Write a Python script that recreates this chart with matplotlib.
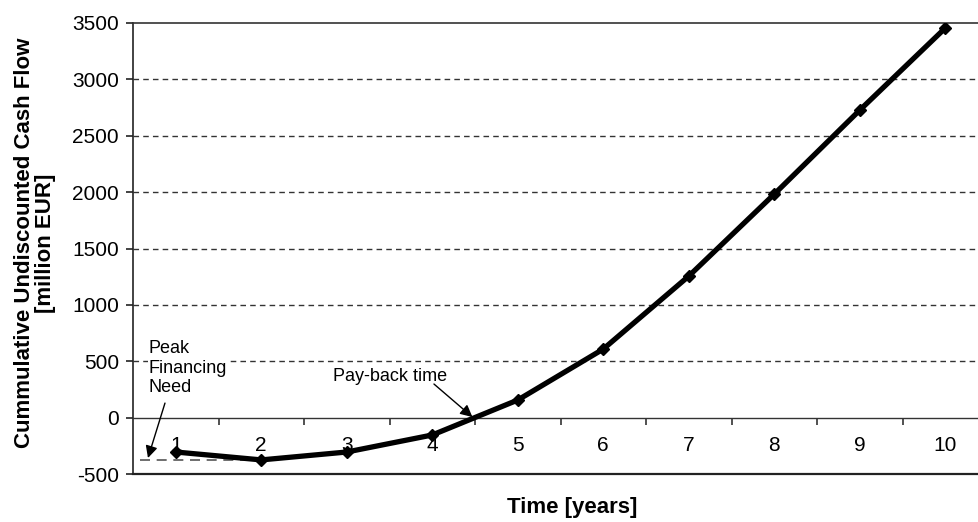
import matplotlib
matplotlib.use("Agg")
import matplotlib.pyplot as plt
from matplotlib.ticker import FixedLocator, NullFormatter

plt.rcParams['font.family'] = ['Liberation Sans', 'DejaVu Sans']

years = [1, 2, 3, 4, 5, 6, 7, 8, 9, 10]
cash_flow = [-305, -375, -305, -154, 156, 608, 1255, 1982, 2727, 3455]
y_ticks = [-500, 0, 500, 1000, 1500, 2000, 2500, 3000, 3500]
y_label = "Cummulative Undiscounted Cash Flow\n[million EUR]"
x_label = "Time [years]"

fig = plt.figure(figsize=(9.79, 5.22), dpi=100)
ax = fig.add_axes([133/979, 1-474/522, 855/979, 451/522])

ax.set_xlim(0.5, 10.5)
ax.set_ylim(-500, 3500)

# grid
for v in y_ticks:
    if v not in (-500, 0, 3500):
        ax.axhline(v, color='#333333', lw=1.0, ls=(0, (4, 3)), zorder=1)

# borders
ax.spines['right'].set_visible(False)
ax.spines['top'].set_color('#333333')
ax.spines['left'].set_color('#222222')
ax.spines['top'].set_linewidth(1.2)
ax.spines['left'].set_linewidth(1.2)
ax.spines['bottom'].set_position(('data', 0))
ax.spines['bottom'].set_color('#333333')
ax.spines['bottom'].set_linewidth(1.0)
ax.axhline(-500, color='#222222', lw=1.6, zorder=2, clip_on=False)

# data line
ax.plot(years, cash_flow, color='black', lw=3.8, marker='D', markersize=6,
        zorder=5, solid_joinstyle='round')

# peak financing dashed line
peak = min(cash_flow)
peak_x = years[cash_flow.index(peak)]
ax.plot([0.58, peak_x], [peak, peak], color='#555555', lw=1.2,
        ls=(0, (6, 4)), zorder=3)

# x ticks between categories, labels at centers
ax.xaxis.set_major_locator(FixedLocator([y + 0.5 for y in years[:-1]]))
ax.xaxis.set_major_formatter(NullFormatter())
ax.xaxis.set_minor_locator(FixedLocator(years))
ax.set_xticklabels([str(y) for y in years], minor=True)
ax.tick_params(axis='x', which='major', direction='out', length=5, width=1.2,
               color='#333333')
ax.tick_params(axis='x', which='minor', length=0, pad=13, labelsize=15)

ax.set_yticks(y_ticks)
ax.set_yticklabels([str(v) for v in y_ticks])
ax.tick_params(axis='y', direction='out', length=5, width=1.2, pad=5,
               labelsize=15, color='#222222')

fig.text(35/979, 1-243/522, y_label, fontsize=16, fontweight='bold',
         rotation=90, ha='center', va='center', multialignment='center',
         linespacing=1.05)
fig.text(572/979, 1-507/522, x_label, fontsize=16, fontweight='bold',
         ha='center', va='center')

# annotations
ax.text(0.687, 688, "Peak\nFinancing\nNeed", fontsize=13, ha='left', va='top',
        linespacing=1.2, zorder=4,
        bbox=dict(facecolor='white', edgecolor='none', pad=1))
ax.annotate("", xy=(0.675, -358), xytext=(0.874, 129),
            arrowprops=dict(arrowstyle='-|>', color='black', lw=1.0,
                            mutation_scale=18, shrinkA=0, shrinkB=0), zorder=6)
ax.text(2.84, 369, "Pay-back time", fontsize=13, ha='left', va='center', zorder=4)
ax.annotate("", xy=(4.47, 5), xytext=(4.02, 298),
            arrowprops=dict(arrowstyle='-|>', color='black', lw=1.0,
                            mutation_scale=18, shrinkA=0, shrinkB=0), zorder=6)

fig.savefig("out.png", dpi=100, facecolor='white')
